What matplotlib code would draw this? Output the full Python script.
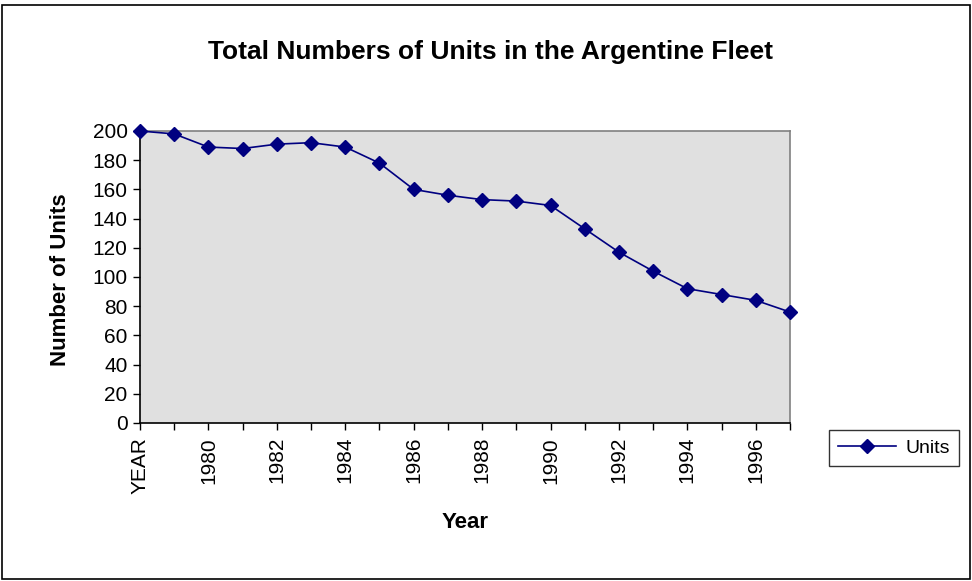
import matplotlib
matplotlib.use("Agg")
import matplotlib.pyplot as plt
from matplotlib.patches import Rectangle

plt.rcParams['font.family'] = ['Liberation Sans', 'DejaVu Sans']

# Data
categories = ['YEAR'] + [str(y) for y in range(1979, 1998)]
units = [200, 198, 189, 188, 191, 192, 189, 178, 160, 156, 153, 152, 149,
         133, 117, 104, 92, 88, 84, 76]

fig = plt.figure(figsize=(9.72, 5.81), dpi=100)
ax = fig.add_axes([140 / 972, 1 - 423 / 581, 650 / 972, 292 / 581])

x = list(range(len(categories)))
ax.plot(x, units, color='#000080', linewidth=1.2, marker='D', markersize=7,
        label='Units', clip_on=False, zorder=3)

ax.set_facecolor('#E0E0E0')
ax.set_xlim(0, len(categories) - 1)
ax.set_ylim(0, 200)
ax.set_yticks(range(0, 201, 20))
ax.set_xticks(x)
ax.set_xticklabels([c if i % 2 == 0 else '' for i, c in enumerate(categories)],
                   rotation=90)
ax.tick_params(axis='both', labelsize=15, direction='out', length=5,
               width=1, color='black')
ax.tick_params(axis='x', pad=5)
ax.tick_params(axis='y', pad=4)

for side in ['left', 'bottom']:
    ax.spines[side].set_color('black')
    ax.spines[side].set_linewidth(1.2)
for side in ['top', 'right']:
    ax.spines[side].set_color('#808080')
    ax.spines[side].set_linewidth(1.2)

fig.text(490 / 972, 1 - 52 / 581, 'Total Numbers of Units in the Argentine Fleet',
         ha='center', va='center', fontsize=19, fontweight='bold')
fig.text(60 / 972, 1 - 280 / 581, 'Number of Units', rotation=90,
         ha='center', va='center', fontsize=16, fontweight='bold')
fig.text(465 / 972, 1 - 523 / 581, 'Year', ha='center', va='center',
         fontsize=16, fontweight='bold')

leg = fig.legend(loc='center', bbox_to_anchor=(894 / 972, 1 - 448 / 581),
                 fontsize=14, frameon=True, fancybox=False, edgecolor='black',
                 handlelength=3, borderpad=0.45, handletextpad=0.5)
leg.get_frame().set_linewidth(1.0)

fig.patches.append(Rectangle((2 / 972, 2 / 581), 968 / 972, 574 / 581,
                             transform=fig.transFigure, fill=False,
                             edgecolor='black', linewidth=1.2))

fig.savefig('out.png', dpi=100)
